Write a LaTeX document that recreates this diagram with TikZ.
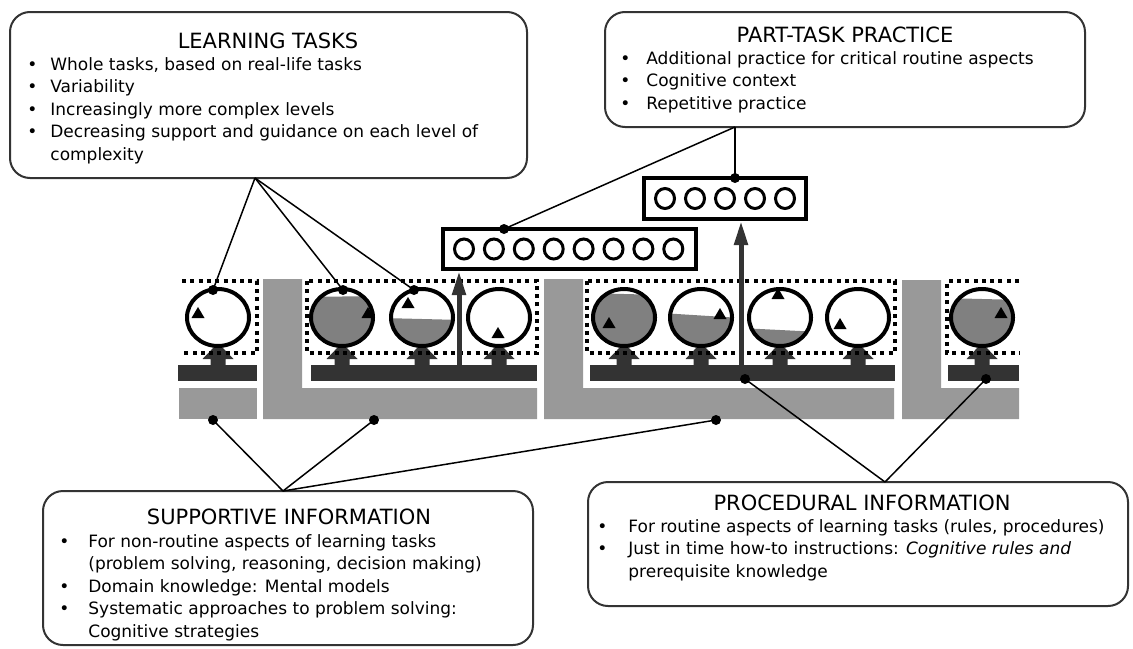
\documentclass[tikz,border=0pt]{standalone}
\usepackage{fontspec}
\setmainfont{DejaVu Sans}
\usetikzlibrary{fit,arrows.meta}
\definecolor{dk}{HTML}{333333}
\definecolor{lg}{HTML}{999999}
\definecolor{md}{HTML}{808080}
\newcommand\tcirc[5]{%
  \fill[white] (#1,317.5) ellipse [x radius=31, y radius=28.5];
  \begin{scope}
    \clip (#1,317.5) ellipse [x radius=31, y radius=28.5];
    \fill[md] (#1-40,#2) -- (#1+40,#3) -- (#1+40,360) -- (#1-40,360) -- cycle;
  \end{scope}
  \fill (#4,#5-6) -- (#4-6.5,#5+5) -- (#4+6.5,#5+5) -- cycle;
  \draw[line width=2pt] (#1,317.5) ellipse [x radius=31, y radius=28.5];
}
\newcommand\uparr[1]{%
  \fill[dk] (#1-7.5,366) -- (#1-7.5,359) -- (#1-15.5,359) -- (#1,343) -- (#1+15.5,359) -- (#1+7.5,359) -- (#1+7.5,366) -- cycle;
}
\begin{document}
\begin{tikzpicture}[x=0.5pt,y=-0.5pt,
  bigbox/.style={draw=dk, line width=1pt, rounded corners=10pt, inner sep=0pt},
  ttl/.style={font=\fontsize{10.5}{12}\selectfont, anchor=base, inner sep=0pt},
  body/.style={font=\fontsize{8.5}{11.25}\selectfont, anchor=base west, inner sep=0pt, align=left},
  conn/.style={line width=0.75pt},
  dot/.style={circle, fill=black, inner sep=0pt, minimum size=5pt},
  dotted rect/.style={line width=2pt, dash pattern=on 2pt off 2.15pt},
  ptbox/.style={draw, line width=2pt, inner sep=0pt},
  smallc/.style={line width=1.5pt},
  bigarrow/.style={dk, line width=2.5pt, -{Triangle[width=6.5pt,length=12pt]}}
]
\useasboundingbox (0,0) rectangle (1133,648);

% light grey shapes
\fill[lg] (179,388) rectangle (257,419);
\fill[lg] (263,279) -- (302,279) -- (302,388) -- (537,388) -- (537,419) -- (263,419) -- cycle;
\fill[lg] (544,279) -- (583,279) -- (583,388) -- (894,388) -- (894,419) -- (544,419) -- cycle;
\fill[lg] (902,280) -- (941,280) -- (941,388) -- (1019,388) -- (1019,419) -- (902,419) -- cycle;

% dark bars
\fill[dk] (178,365) rectangle (257,381);
\fill[dk] (311,365) rectangle (537,381);
\fill[dk] (590,365) rectangle (895,381);
\fill[dk] (948,365) rectangle (1019,381);

% block arrows
\uparr{218}\uparr{342}\uparr{422}\uparr{499}
\uparr{624}\uparr{701}\uparr{780}\uparr{858}\uparr{982}

% dotted frames
\draw[dotted rect] (182,281) -- (257,281) -- (257,353) -- (182,353);
\draw[dotted rect] (307,281) rectangle (537,353);
\draw[dotted rect] (587,281) rectangle (895,353);
\draw[dotted rect] (1019,281) -- (947,281) -- (947,353) -- (1019,353);

% task circles
\tcirc{218}{400}{400}{198}{313}
\tcirc{342}{297}{296}{368}{313}
\tcirc{422}{318}{320}{408}{303}
\tcirc{499}{400}{400}{498}{333}
\tcirc{624}{293}{295}{609}{323}
\tcirc{701}{313}{318}{720}{314}
\tcirc{780}{328}{332}{778}{294}
\tcirc{858}{400}{400}{840}{324}
\tcirc{982}{298}{300}{1001}{313}

% part-task practice boxes
\node[ptbox, fit={(443,229) (696,269)}] (pa) {};
\foreach \i in {0,...,7} \draw[smallc] (464+29.9*\i,249) ellipse [x radius=9.5, y radius=10];
\node[ptbox, fit={(644,178) (806,219)}] (pb) {};
\foreach \i in {0,...,4} \draw[smallc] (665+30*\i,198.5) ellipse [x radius=9.5, y radius=10];

% vertical arrows
\coordinate (a1) at (459,365);
\coordinate (a2) at (741,365);
\draw[bigarrow] (a1) -- (a1 |- pa.south);
\draw[bigarrow] (a2) -- (a2 |- pb.south);

% text boxes
\node[bigbox, fit={(10,12) (527,178)}] (lt) {};
\node[ttl] (ltt) at (268,48) {LEARNING TASKS};
\node[body] (ltb) at (27,70) {\begin{tabular}[t]{@{}l@{}l@{}}
\makebox[11.5pt][l]{\textbullet} & Whole tasks, based on real-life tasks\\
\makebox[11.5pt][l]{\textbullet} & Variability\\
\makebox[11.5pt][l]{\textbullet} & Increasingly more complex levels\\
\makebox[11.5pt][l]{\textbullet} & Decreasing support and guidance on each level of\\
 & complexity
\end{tabular}};

\node[bigbox, fit={(605,12) (1085,127)}] (pt) {};
\node[ttl] (ptt) at (845,42) {PART-TASK PRACTICE};
\node[body] (ptb) at (620,64) {\begin{tabular}[t]{@{}l@{}l@{}}
\makebox[13pt][l]{\textbullet} & Additional practice for critical routine aspects\\
\makebox[13pt][l]{\textbullet} & Cognitive context\\
\makebox[13pt][l]{\textbullet} & Repetitive practice
\end{tabular}};

\node[bigbox, fit={(43,491) (533,645)}] (si) {};
\node[ttl] (sit) at (289,524) {SUPPORTIVE INFORMATION};
\node[body] (sib) at (59,547) {\begin{tabular}[t]{@{}l@{}l@{}}
\makebox[14.5pt][l]{\textbullet} & For non-routine aspects of learning tasks\\
 & (problem solving, reasoning, decision making)\\
\makebox[14.5pt][l]{\textbullet} & Domain knowledge: Mental models\\
\makebox[14.5pt][l]{\textbullet} & Systematic approaches to problem solving:\\
 & Cognitive strategies
\end{tabular}};

\node[bigbox, fit={(588,482) (1128,606)}] (pi) {};
\node[ttl] (pit) at (862,510) {PROCEDURAL INFORMATION};
\node[body] (pib) at (597,532) {\begin{tabular}[t]{@{}l@{}l@{}}
\makebox[15.5pt][l]{\textbullet} & For routine aspects of learning tasks (rules, procedures)\\
\makebox[15.5pt][l]{\textbullet} & Just in time how-to instructions: \textit{Cognitive rules and}\\
 & prerequisite knowledge
\end{tabular}};

% connectors
\coordinate (ltapex) at (255,178);
\coordinate (ptapex) at (735,127);
\coordinate (siapex) at (283,491);
\coordinate (piapex) at (885,482);
\node[dot] (d1) at (213,290) {};
\node[dot] (d2) at (343,290) {};
\node[dot] (d3) at (414,290) {};
\node[dot] (d4) at (504,229) {};
\node[dot] (d5) at (735,178) {};
\node[dot] (d6) at (213,420) {};
\node[dot] (d7) at (374,420) {};
\node[dot] (d8) at (716,420) {};
\node[dot] (d9) at (745,379) {};
\node[dot] (d10) at (986,379) {};
\foreach \d in {d1,d2,d3} \draw[conn] (ltapex) -- (\d.center);
\foreach \d in {d4,d5} \draw[conn] (ptapex) -- (\d.center);
\foreach \d in {d6,d7,d8} \draw[conn] (siapex) -- (\d.center);
\foreach \d in {d9,d10} \draw[conn] (piapex) -- (\d.center);
\end{tikzpicture}
\end{document}
